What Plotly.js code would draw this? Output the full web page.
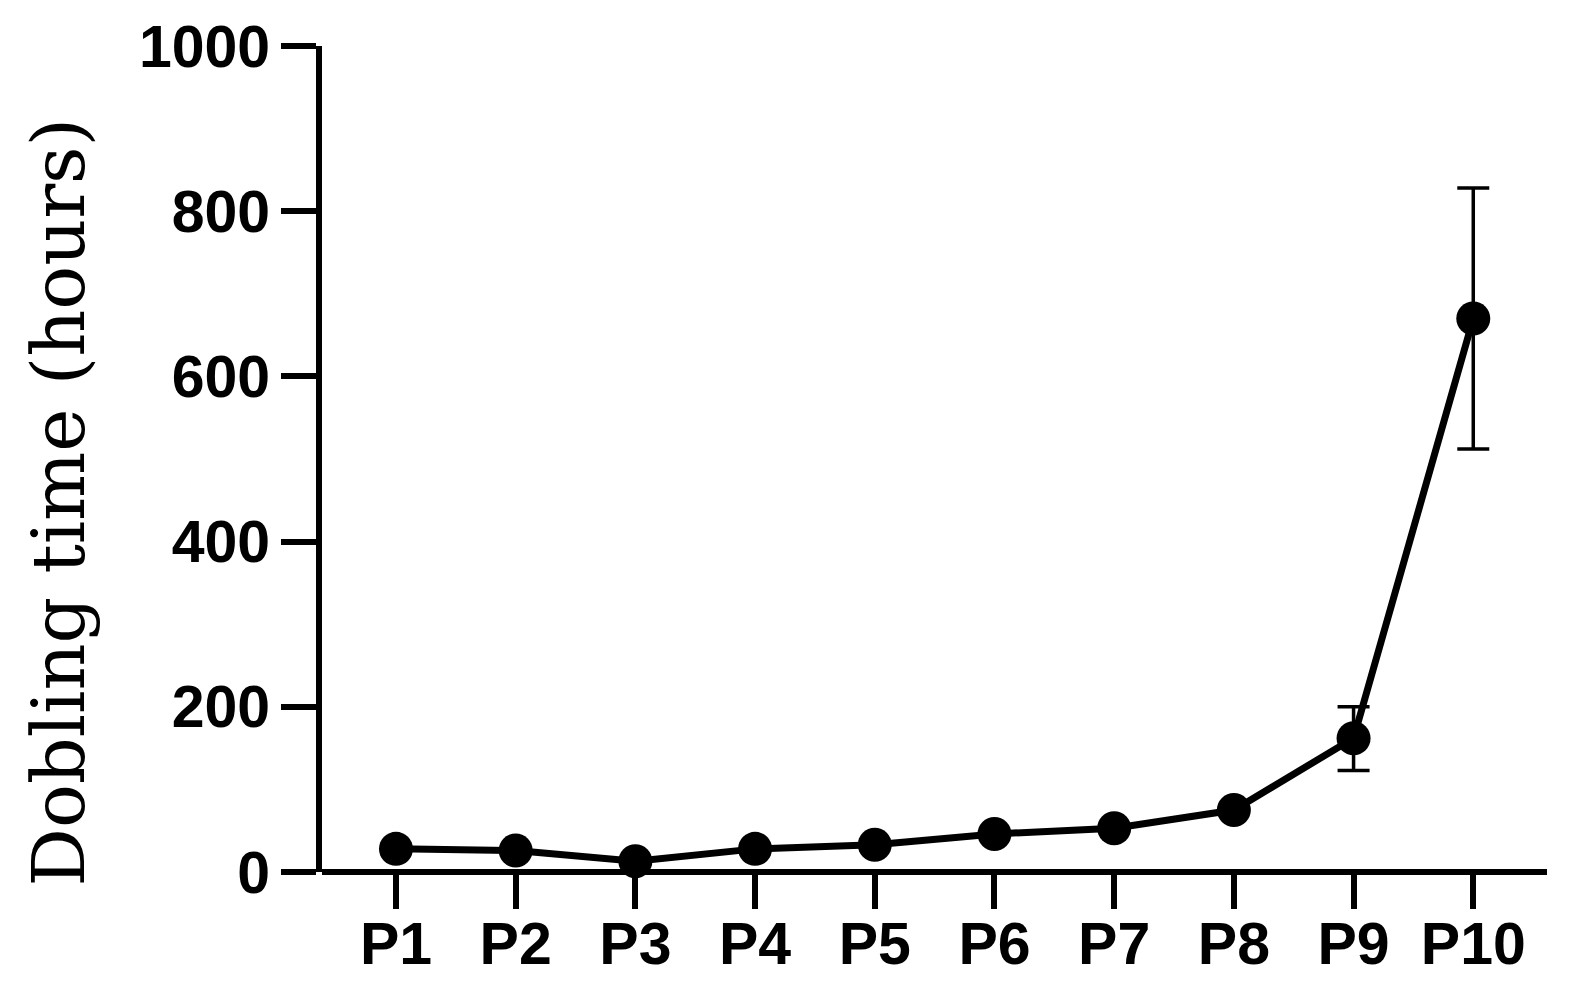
<!DOCTYPE html>
<html>
<head>
<meta charset="utf-8">
<script src="https://cdn.plot.ly/plotly-3.0.1.min.js"></script>
<style>
  html, body { margin: 0; padding: 0; background: #fff; }
  #chart { width: 1580px; height: 999px; }
</style>
</head>
<body>
<div id="chart"></div>
<script>
// passages
var passages = ["P1", "P2", "P3", "P4", "P5", "P6", "P7", "P8", "P9", "P10"];
// mean doubling time (hours)
var doublingTime = [28, 26, 13, 28, 33, 46, 53, 75, 162, 670];
// error (+/-)
var errorPlus = [0, 0, 0, 0, 0, 0, 0, 0, 38, 158];
var errorMinus = [0, 0, 0, 0, 0, 0, 0, 0, 39, 158];
var yTicks = [0, 200, 400, 600, 800, 1000];

var trace = {
    x: passages,
    y: doublingTime,
    type: "scatter",
    mode: "lines+markers",
    line: {color: "#000", width: 7},
    marker: {color: "#000", size: 34},
    error_y: {
        type: "data",
        symmetric: false,
        array: errorPlus,
        arrayminus: errorMinus,
        color: "#000",
        thickness: 3.5,
        width: 16
    },
    cliponaxis: false,
    hoverinfo: "x+y"
};

var tickFont = {family: "Liberation Sans, Arial, sans-serif", size: 59, color: "#000", weight: "bold"};

var layout = {
    width: 1580,
    height: 999,
    margin: {l: 322, r: 33, t: 46, b: 127},
    paper_bgcolor: "#fff",
    plot_bgcolor: "#fff",
    showlegend: false,
    xaxis: {
        type: "category",
        range: [-0.618, 9.616],
        showgrid: false,
        zeroline: false,
        showline: false,
        ticks: "outside",
        ticklen: 36,
        tickwidth: 6,
        tickcolor: "#000",
        tickfont: tickFont,
        ticklabelstandoff: -16
    },
    yaxis: {
        range: [0, 1000],
        tickvals: yTicks,
        showgrid: false,
        zeroline: true,
        zerolinecolor: "#000",
        zerolinewidth: 6,
        showline: true,
        linecolor: "#000",
        linewidth: 6,
        ticks: "outside",
        ticklen: 35,
        tickwidth: 6,
        tickcolor: "#000",
        tickfont: tickFont,
        ticklabelstandoff: -1
    },
    annotations: [{
        text: "Dobling time (hours)",
        xref: "paper",
        yref: "paper",
        x: -0.2155,
        y: 0.4474,
        xanchor: "center",
        yanchor: "middle",
        textangle: -90,
        showarrow: false,
        font: {family: "DejaVu Serif, serif", size: 73, color: "#000"}
    }]
};

Plotly.newPlot("chart", [trace], layout, {displayModeBar: false, staticPlot: true});
</script>
</body>
</html>
